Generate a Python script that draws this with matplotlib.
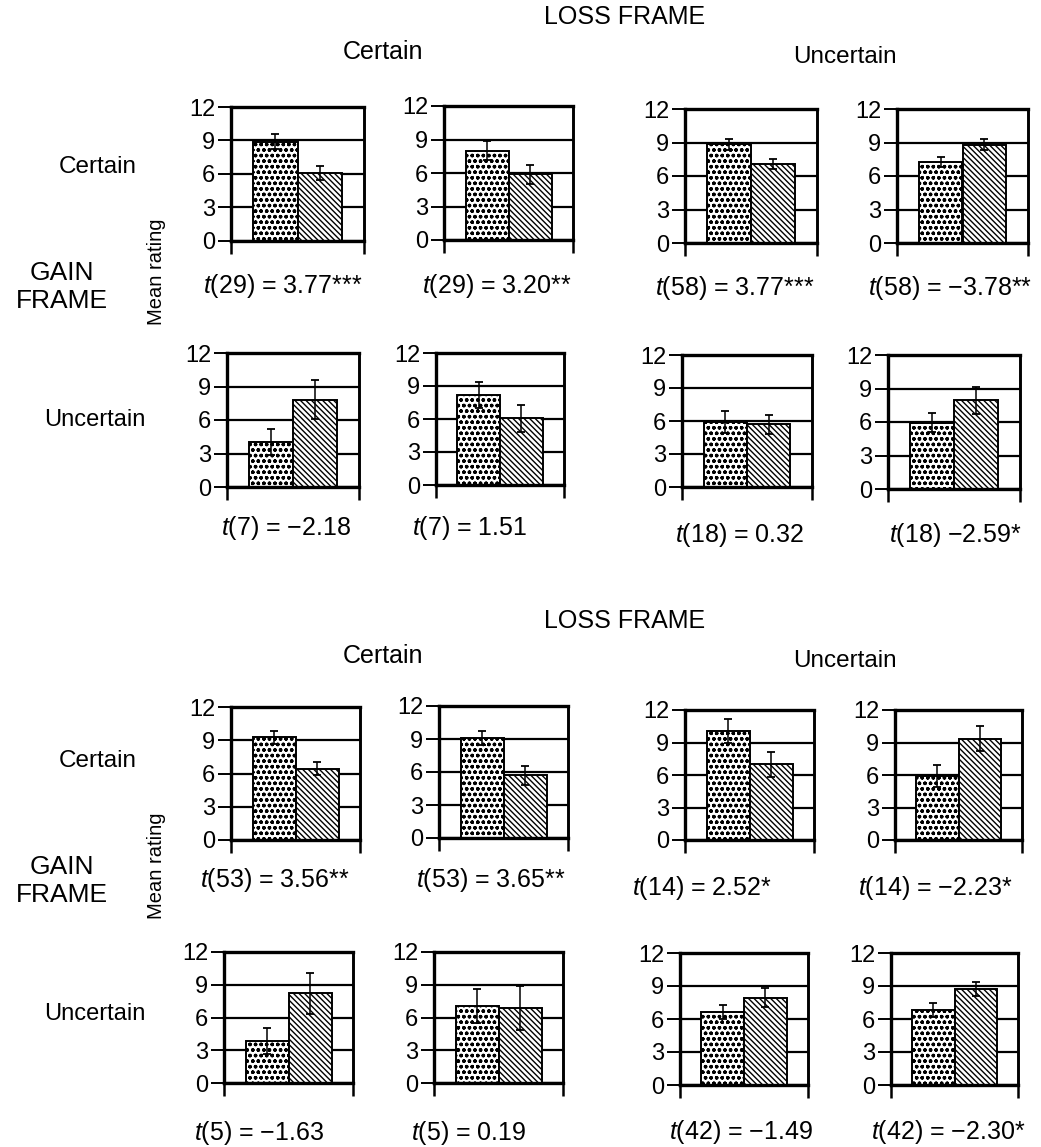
import numpy as np
from matplotlib import pyplot as plt

plt.rcParams['font.family'] = ['Liberation Sans', 'DejaVu Sans']
plt.rcParams['mathtext.fontset'] = 'custom'
plt.rcParams['mathtext.it'] = 'Liberation Sans:italic'
plt.rcParams['mathtext.rm'] = 'Liberation Sans'
plt.rcParams['hatch.linewidth'] = 1.0
plt.rcParams['hatch.color'] = 'black'

# 16 panels, read row by row (top block rows 1-2, bottom block rows 3-4)
dotted_means = [8.9, 8.0, 8.85, 7.25, 4.05, 8.2, 5.9, 5.95,
                9.25, 9.1, 10.05, 5.9, 3.85, 7.05, 6.65, 6.8]
dotted_err = [0.65, 0.85, 0.5, 0.45, 1.15, 1.2, 1.0, 0.85,
              0.6, 0.6, 1.1, 1.05, 1.2, 1.55, 0.65, 0.65]
hatched_means = [6.1, 5.9, 7.05, 8.8, 7.8, 6.05, 5.7, 7.95,
                 6.45, 5.7, 7.0, 9.35, 8.2, 6.9, 7.95, 8.7]
hatched_err = [0.6, 0.85, 0.45, 0.5, 1.75, 1.25, 0.85, 1.2,
               0.62, 0.85, 1.15, 1.15, 1.9, 2.0, 0.85, 0.62]
t_labels = ["(29) = 3.77***", "(29) = 3.20**", "(58) = 3.77***", "(58) = \u22123.78**",
            "(7) = \u22122.18", "(7) = 1.51", "(18) = 0.32", "(18) \u22122.59*",
            "(53) = 3.56**", "(53) = 3.65**", "(14) = 2.52*", "(14) = \u22122.23*",
            "(5) = \u22121.63", "(5) = 0.19", "(42) = \u22121.49", "(42) = \u22122.30*"]
y_ticks = [0, 3, 6, 9, 12]
block_title = "LOSS FRAME"
col_headers = ["Certain", "Uncertain"]
row_headers = ["Certain", "Uncertain"]
side_title = "GAIN\nFRAME"
y_label = "Mean rating"

W, H = 1041, 1147

# panel boxes in pixels: left, top, right, bottom
boxes = [
    (231, 107, 364, 241), (444, 106, 573, 240), (685, 109, 817, 243), (897, 109, 1028, 243),
    (227, 353, 359, 487), (436, 353, 564, 485), (682, 355, 812, 487), (888, 355, 1020, 489),
    (231, 707, 360, 840), (439, 706, 568, 838), (685, 710, 814, 840), (895, 710, 1022, 840),
    (224, 952, 353, 1083), (434, 952, 563, 1083), (680, 953, 808, 1085), (891, 953, 1018, 1085),
]
t_pos = [(283, 286), (497, 286), (735, 288), (950, 288),
         (286, 528), (470, 528), (740, 535), (955, 535),
         (275, 880), (491, 880), (702, 888), (935, 888),
         (259, 1133), (469, 1133), (741, 1132), (948, 1132)]


def fx(x):
    return x / W


def fy(y):
    return 1 - y / H


def draw_panel(ax, i):
    ax.set_axisbelow(True)
    ax.bar([0], [dotted_means[i]], width=1.0, color='white', edgecolor='black',
           linewidth=1.4, hatch='ooo...', zorder=2)
    ax.bar([1], [hatched_means[i]], width=1.0, color='white', edgecolor='black',
           linewidth=1.4, hatch='\\\\\\\\\\\\', zorder=2)
    ax.errorbar([0, 1], [dotted_means[i], hatched_means[i]],
                yerr=[dotted_err[i], hatched_err[i]], fmt='none', ecolor='black',
                elinewidth=1.1, capsize=3.2, capthick=1.3, zorder=3)
    ax.set_xlim(-1, 2)
    ax.set_ylim(0, 12)
    ax.set_yticks(y_ticks)
    ax.set_xticks([-1, 2])
    ax.set_xticklabels([])
    ax.yaxis.grid(True, color='black', linewidth=1.6)
    ax.tick_params(axis='y', direction='out', length=9.5, width=1.4, labelsize=17, pad=2)
    ax.tick_params(axis='x', direction='out', length=9, width=1.8)
    for side in ['left', 'top', 'bottom', 'right']:
        ax.spines[side].set_linewidth(2.4)
    ax.spines['right'].set_linewidth(2.1)


fig = plt.figure(figsize=(W / 100, H / 100), dpi=100)

for i, (l, t, r, b) in enumerate(boxes):
    ax = fig.add_axes([fx(l), fy(b), (r - l) / W, (b - t) / H])
    draw_panel(ax, i)
    tx, ty = t_pos[i]
    fig.text(fx(tx), fy(ty), r'$\mathit{t}$' + t_labels[i], ha='center', va='center', fontsize=18)

# block headings
for off in [0, 604]:
    d = 0 if off == 0 else 10
    fig.text(fx(625), fy(17 + off), block_title, ha='center', va='center', fontsize=18)
    fig.text(fx(383), fy(52 + off), col_headers[0], ha='center', va='center', fontsize=18)
    fig.text(fx(845), fy(57 + off), col_headers[1], ha='center', va='center', fontsize=17.5)
    fig.text(fx(98), fy(167 + off - d), row_headers[0], ha='center', va='center', fontsize=17.5)
    fig.text(fx(95), fy(420 + off - d), row_headers[1], ha='center', va='center', fontsize=17)
    fig.text(fx(62), fy(287 + off - d), side_title, ha='center', va='center',
             fontsize=19, linespacing=1.22)
    fig.text(fx(156), fy(272 + off - d), y_label, ha='center', va='center',
             rotation=90, fontsize=14.5)

fig.savefig('out.png', dpi=100)
